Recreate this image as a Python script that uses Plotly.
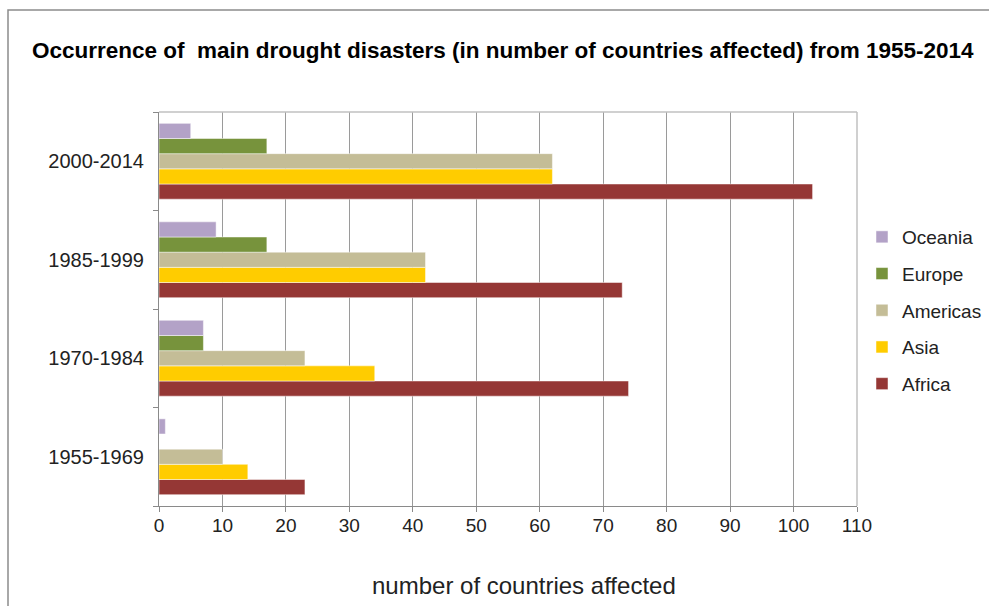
import plotly.graph_objects as go

# Periods (bottom to top on the category axis)
periods = ["1955-1969", "1970-1984", "1985-1999", "2000-2014"]

# Number of countries affected per region and period
africa = [23, 74, 73, 103]
asia = [14, 34, 42, 62]
americas = [10, 23, 42, 62]
europe = [0, 7, 17, 17]
oceania = [1, 7, 9, 5]

regions = ["Africa", "Asia", "Americas", "Europe", "Oceania"]
values = [africa, asia, americas, europe, oceania]
colors = ["#953735", "#FFCC00", "#C4BD97", "#77933C", "#B3A2C7"]

x_ticks = list(range(0, 111, 10))

W, H = 989, 606
ML, MR, MT, MB = 159, 132, 112, 100
PW, PH = W - ML - MR, H - MT - MB

BODY = "Liberation Sans, Arial, sans-serif"

fig = go.Figure()
n = len(regions)
for i, (name, vals, col) in enumerate(zip(regions, values, colors)):
    fig.add_trace(go.Bar(
        y=periods, x=vals, name=name, orientation="h",
        marker=dict(color=col, line=dict(color="rgba(255,255,255,0.6)", width=0.8)),
        legendgroup=name,
        legendrank=n - i,  # top bar of each group listed first
    ))


def px_x(px):
    return (px - ML) / PW


def px_y(py):
    return 1 - (py - MT) / PH


fig.update_layout(
    width=W, height=H,
    margin=dict(l=ML, r=MR, t=MT, b=MB, autoexpand=False),
    paper_bgcolor="white", plot_bgcolor="white",
    barmode="group", bargap=0.23, bargroupgap=0,
    font=dict(family=BODY, size=19, color="#222"),
    showlegend=True,
    legend=dict(
        traceorder="grouped", tracegroupgap=9, itemwidth=30,
        xref="container", yref="container",
        x=862 / W, xanchor="left", y=1 - 218 / H, yanchor="top",
        font=dict(family=BODY, size=19, color="#222"),
        bgcolor="rgba(0,0,0,0)",
    ),
    xaxis=dict(
        range=[0, 110], tickvals=x_ticks, ticktext=[str(v) for v in x_ticks],
        showgrid=True, gridcolor="#9a9a9a", gridwidth=1,
        showline=True, linecolor="#8a8a8a", linewidth=1,
        ticks="outside", ticklen=5, tickcolor="#8a8a8a",
        ticklabelstandoff=-3,
        zeroline=False, fixedrange=True,
        tickfont=dict(family=BODY, size=19, color="#222"),
    ),
    yaxis=dict(
        type="category", categoryorder="array", categoryarray=periods,
        tickson="boundaries", ticks="outside", ticklen=5, tickcolor="#8a8a8a",
        ticklabelstandoff=10,
        showline=True, linecolor="#8a8a8a", linewidth=1,
        showgrid=False, fixedrange=True,
        tickfont=dict(family=BODY, size=20, color="#222"),
    ),
    shapes=[
        # light frame on the top and right of the plot area
        dict(type="line", xref="paper", yref="paper", x0=0, x1=1, y0=1, y1=1,
             line=dict(color="#c0c0c0", width=1.5)),
        dict(type="line", xref="paper", yref="paper", x0=1, x1=1, y0=0, y1=1,
             line=dict(color="#c0c0c0", width=1.5)),
        # chart border
        dict(type="rect", xref="paper", yref="paper",
             x0=px_x(8), x1=px_x(1000), y0=px_y(620), y1=px_y(10),
             line=dict(color="#8c8c8c", width=1.5)),
    ],
    annotations=[
        dict(text="<b>Occurrence of  main drought disasters (in number of countries affected) from 1955-2014</b>",
             xref="paper", yref="paper", x=px_x(503), y=px_y(50),
             xanchor="center", yanchor="middle", showarrow=False,
             font=dict(family=BODY, size=22.5, color="#000")),
        dict(text="number of countries affected",
             xref="paper", yref="paper", x=px_x(524), y=px_y(585),
             xanchor="center", yanchor="middle", showarrow=False,
             font=dict(family=BODY, size=24, color="#222")),
    ],
)

fig.write_html("out.html")
